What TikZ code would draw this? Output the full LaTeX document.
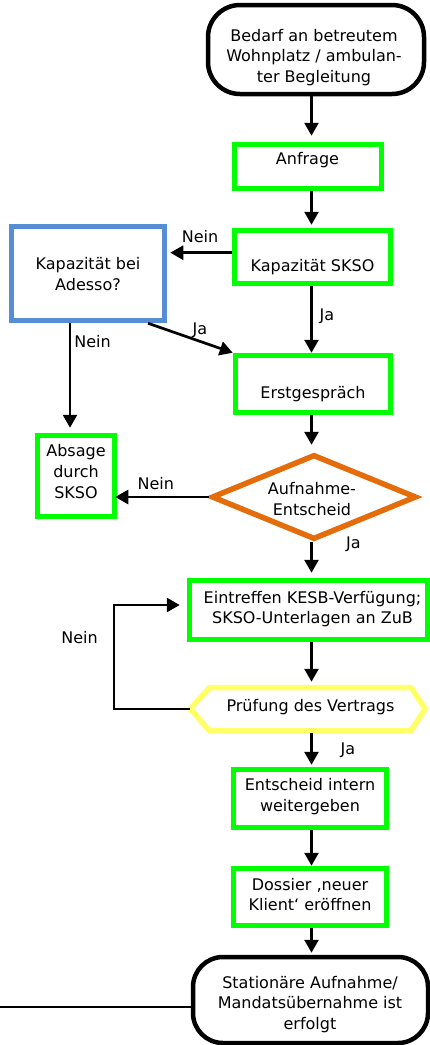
\documentclass[tikz,border=0pt]{standalone}
\usepackage{fontspec}
\setmainfont{DejaVu Sans}
\usetikzlibrary{arrows.meta,shapes.geometric,calc}
\definecolor{gr}{HTML}{00FF00}
\definecolor{bl}{HTML}{558ED5}
\definecolor{org}{HTML}{E46C0A}
\definecolor{yl}{HTML}{FFFF66}
\newcommand{\fs}{\fontsize{16}{20.8}\selectfont}
\begin{document}
\begin{tikzpicture}[x=1pt,y=-1pt,
  term/.style={draw=black, line width=4.5pt, rounded corners=32pt, inner sep=0pt, outer sep=2.25pt},
  gbox/.style={draw=gr, line width=5.5pt, inner sep=0pt, outer sep=2.75pt},
  bbox/.style={draw=bl, line width=5.5pt, inner sep=0pt, outer sep=2.75pt},
  dia/.style={shape=diamond, draw=org, line width=5.5pt, inner sep=0pt, outer sep=2.75pt, aspect=2.5},
  hexin/.style={inner sep=0pt, outer sep=2.75pt},
  hex/.style={draw=yl, line width=5.5pt, line join=miter},
  lbl/.style={font=\fs, inner sep=0pt, outer sep=0pt, anchor=base, align=center},
  arr/.style={line width=2.7pt, -{Triangle[length=13pt,width=14pt]}},
  ln/.style={line width=2.7pt}]
\useasboundingbox (0,0) rectangle (430,1045);

% shapes
\node[term, minimum width=216pt, minimum height=89pt] (start) at (316,49.5) {};
\node[gbox, minimum width=147pt, minimum height=44pt] (anf) at (308,166.5) {};
\node[gbox, minimum width=156pt, minimum height=53pt] (kap) at (312.5,257) {};
\node[bbox, minimum width=153pt, minimum height=94pt] (ade) at (88,273.5) {};
\node[gbox, minimum width=155pt, minimum height=57pt] (erst) at (313,384) {};
\node[gbox, minimum width=77pt, minimum height=81pt] (abs) at (76,476) {};
\node[dia, minimum width=205pt, minimum height=85pt] (dia) at (314,497) {};
\node[gbox, minimum width=238.5pt, minimum height=59pt] (kesb) at (308.75,610) {};
\node[hexin, minimum width=201.5pt, minimum height=43pt] (pru) at (310.25,709) {};
\coordinate (pru-l) at ($(pru.west)+(-16.5,0)$);
\coordinate (pru-r) at ($(pru.east)+(11.5,0)$);
\draw[hex] ($(pru.north west)+(2.75,2.75)$) -- ($(pru.north east)+(-2.75,2.75)$) -- (pru-r)
  -- ($(pru.south east)+(-2.75,-2.75)$) -- ($(pru.south west)+(2.75,-2.75)$) -- (pru-l) -- cycle;
\node[gbox, minimum width=153pt, minimum height=58pt] (ent) at (310,798.5) {};
\node[gbox, minimum width=153pt, minimum height=57pt] (dos) at (310,897) {};
\node[term, rounded corners=30pt, minimum width=235pt, minimum height=86pt] (end) at (310.5,1000) {};

% texts (anchor base = baseline of last line)
\node[lbl] (t-start) at (314,82.6) {Bedarf an betreutem\\Wohnplatz / ambulan-\\ter Begleitung};
\node[lbl] (t-anf) at (307.5,164) {Anfrage};
\node[lbl] (t-kap) at (312.5,271) {Kapazität SKSO};
\node[lbl] (t-ade) at (88,290.1) {Kapazität bei\\Adesso?};
\node[lbl] (t-erst) at (313,398) {Erstgespräch};
\node[lbl] (t-abs) at (76,498.1) {Absage\\durch\\SKSO};
\node[lbl] (t-dia) at (312,515.5) {Aufnahme-\\Entscheid};
\node[lbl] (t-kesb) at (312.5,623.8) {Eintreffen KESB-Verfügung;\\SKSO-Unterlagen an ZuB};
\node[lbl] (t-pru) at (310.5,711) {Prüfung des Vertrags};
\node[lbl] (t-ent) at (310,811.5) {Entscheid intern\\weitergeben};
\node[lbl] (t-dos) at (310,910.8) {Dossier ‚neuer\\Klient‘ eröffnen};
\node[lbl] (t-end) at (310,1029.6) {Stationäre Aufnahme/\\Mandatsübernahme ist\\erfolgt};

% connector labels
\node[lbl] (l1) at (200,242) {Nein};
\node[lbl] (l2) at (327,320) {Ja};
\node[lbl] (l3) at (200,334) {Ja};
\node[lbl] (l4) at (92.5,347.7) {Nein};
\node[lbl] (l5) at (155.8,489) {Nein};
\node[lbl] (l6) at (353.5,548) {Ja};
\node[lbl] (l7) at (79.5,643) {Nein};
\node[lbl] (l8) at (348,754) {Ja};

% connectors
\coordinate (col) at (311.5,0);
\coordinate (lc) at (70,0);
\coordinate (loopx) at (114,0);
\coordinate (lend) at (0,1007);
\draw[arr, shorten >=6pt] (start.south -| col) -- (anf.north -| col);
\draw[arr, shorten >=3pt] (anf.south -| col) -- (kap.north -| col);
\draw[arr] (kap.south -| col) -- (erst.north -| col);
\draw[arr, shorten >=7pt] (erst.south -| col) -- (dia.north -| col);
\draw[arr, shorten >=5pt] (dia.south -| col) -- (kesb.north -| col);
\draw[arr, shorten >=3pt] (kesb.south -| col) -- (pru.north -| col);
\draw[arr, shorten >=2pt] (pru.south -| col) -- (ent.north -| col);
\draw[arr] (ent.south -| col) -- (dos.north -| col);
\draw[arr, shorten >=2pt] (dos.south -| col) -- (end.north -| col);
\draw[arr, shorten >=3pt] (kap.west |- 0,252.7) -- (ade.east |- 0,252.7);
\draw[arr] ($(ade.south)+(60,0)$) -- (erst.north west);
\draw[arr, shorten >=5pt] (ade.south -| lc) -- (abs.north -| lc);
\draw[arr, shorten >=-2pt] (dia.west) -- (abs.east |- dia.west);
\draw[arr, shorten >=7pt] (pru-l) -- (pru-l -| loopx) |- (kesb.west |- 0,605);
\draw[ln] (end.west |- lend) -- (lend);
\end{tikzpicture}
\end{document}
